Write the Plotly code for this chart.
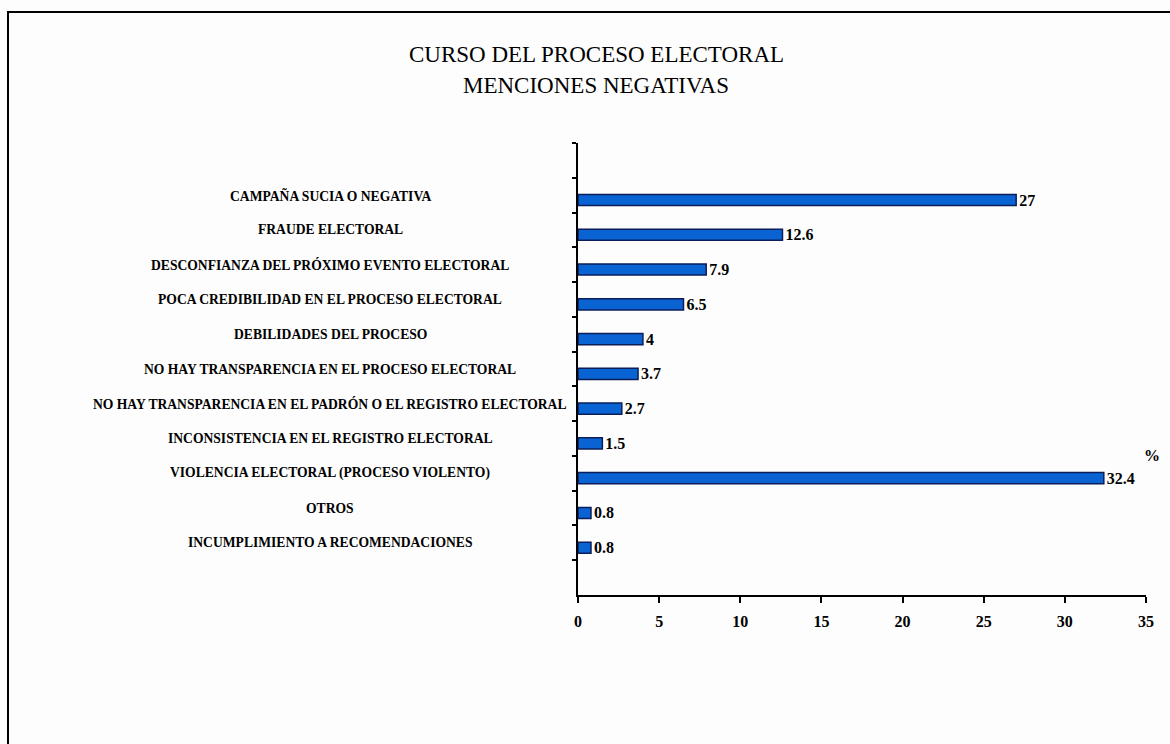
import plotly.graph_objects as go

categories = [
    "CAMPAÑA SUCIA O NEGATIVA",
    "FRAUDE ELECTORAL",
    "DESCONFIANZA DEL PRÓXIMO EVENTO ELECTORAL",
    "POCA CREDIBILIDAD EN EL PROCESO ELECTORAL",
    "DEBILIDADES DEL PROCESO",
    "NO HAY TRANSPARENCIA EN EL PROCESO ELECTORAL",
    "NO HAY TRANSPARENCIA EN EL PADRÓN O EL REGISTRO ELECTORAL",
    "INCONSISTENCIA EN EL REGISTRO ELECTORAL",
    "VIOLENCIA ELECTORAL (PROCESO VIOLENTO)",
    "OTROS",
    "INCUMPLIMIENTO A RECOMENDACIONES",
]
values = [27, 12.6, 7.9, 6.5, 4, 3.7, 2.7, 1.5, 32.4, 0.8, 0.8]
x_ticks = [0, 5, 10, 15, 20, 25, 30, 35]
title_lines = ["CURSO DEL PROCESO ELECTORAL", "MENCIONES NEGATIVAS"]

SERIF = "Liberation Serif, Times New Roman, serif"
W, H = 1170, 744
L, R, T, B = 578, 24, 143, 149
pw = W - L - R
ph = H - T - B

def px_x(x):
    return (x - L) / pw

def px_y(y):
    return (H - B - y) / ph

cat_order = [" "] + categories + ["  "]

fig = go.Figure()
fig.add_trace(go.Bar(
    x=values,
    y=categories,
    orientation="h",
    width=0.32,
    offset=-0.02,
    marker=dict(color="#0A63D2", line=dict(color="#0B1E5A", width=1.5)),
    text=[f"{v:g}" for v in values],
    textposition="outside",
    constraintext="none",
    textfont=dict(family=SERIF, size=16, color="black", weight="bold"),
    cliponaxis=False,
    showlegend=False,
))

annotations = []
for c in categories:
    annotations.append(dict(
        x=px_x(330), xref="paper", y=c, yref="y",
        text=c, showarrow=False, xanchor="center", yanchor="middle",
        font=dict(family=SERIF, size=13.6, color="black", weight="bold"),
    ))
annotations.append(dict(
    x=px_x(1152), xref="paper", y=px_y(455), yref="paper",
    text="%", showarrow=False, xanchor="center", yanchor="middle",
    font=dict(family=SERIF, size=16, color="black", weight="bold"),
))
for line, ypix in zip(title_lines, [55, 86]):
    annotations.append(dict(
        x=px_x(596), xref="paper", y=px_y(ypix), yref="paper",
        text=line, showarrow=False, xanchor="center", yanchor="middle",
        font=dict(family=SERIF, size=23, color="black"),
    ))

fig.update_layout(
    width=W, height=H,
    margin=dict(l=L, r=R, t=T, b=B, autoexpand=False),
    paper_bgcolor="#FDFDFD",
    plot_bgcolor="#FDFDFD",
    xaxis=dict(
        range=[0, 35], tickvals=x_ticks, ticktext=[str(t) for t in x_ticks],
        showgrid=False, zeroline=False,
        showline=True, linecolor="black", linewidth=1.5,
        ticks="outside", ticklen=6, tickcolor="black", tickwidth=1.5,
        tickfont=dict(family=SERIF, size=16, color="black", weight="bold"),
        ticklabelstandoff=5,
    ),
    yaxis=dict(
        type="category", categoryorder="array", categoryarray=cat_order,
        range=[len(cat_order) - 0.5, -0.5],
        showticklabels=False, showgrid=False, zeroline=False,
        showline=True, linecolor="black", linewidth=1.5,
        ticks="outside", ticklen=4, tickcolor="black", tickwidth=1.5,
        tickson="boundaries",
    ),
    annotations=annotations,
    shapes=[dict(
        type="rect", xref="paper", yref="paper",
        x0=px_x(8), x1=px_x(1300), y0=px_y(900), y1=px_y(12),
        line=dict(color="black", width=2), fillcolor="rgba(0,0,0,0)", layer="below",
    )],
)

fig.write_html("out.html")
